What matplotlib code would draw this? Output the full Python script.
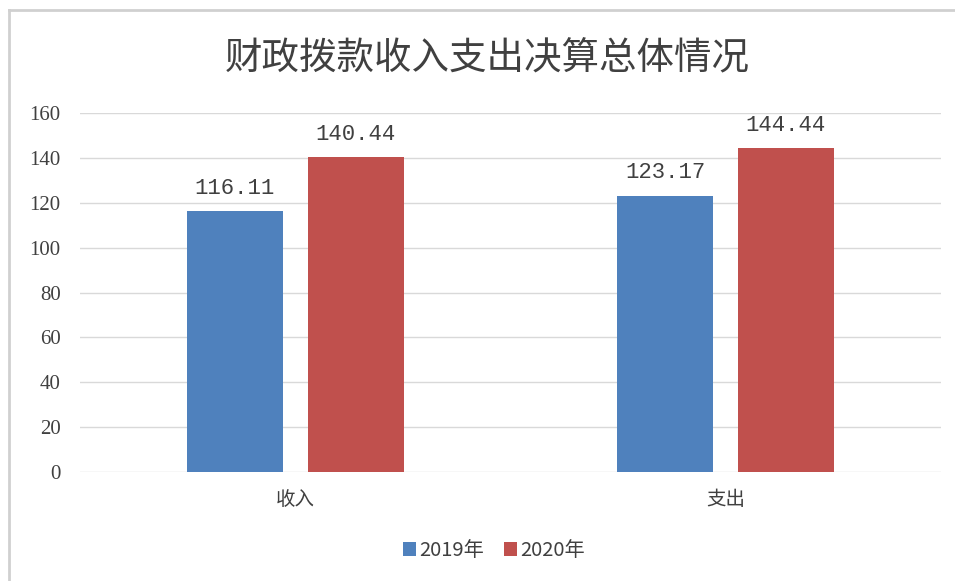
import numpy as np
import matplotlib.pyplot as plt
from matplotlib.lines import Line2D

# chart data
categories = ['收入', '支出']
series_names = ['2019年', '2020年']
values_2019 = [116.11, 123.17]
values_2020 = [140.44, 144.44]
y_ticks = [0, 20, 40, 60, 80, 100, 120, 140, 160]

blue = '#4F81BD'
red = '#C0504D'
grid_col = '#D9D9D9'
text_col = '#404040'

plt.rcParams['font.family'] = ['Noto Sans CJK SC', 'DejaVu Sans']

fig = plt.figure(figsize=(9.55, 5.81), dpi=100)
ax = fig.add_axes([0.0838, 0.1876, 0.9012, 0.6179])

x = np.arange(len(categories))
w = 0.223
off = 0.1405
b1 = ax.bar(x - off, values_2019, w, color=blue, label=series_names[0], zorder=3)
b2 = ax.bar(x + off, values_2020, w, color=red, label=series_names[1], zorder=3)

# data labels
for bars, vals in ((b1, values_2019), (b2, values_2020)):
    for r, v in zip(bars, vals):
        ax.text(r.get_x() + r.get_width() / 2, v + 5.5, f'{v:.2f}',
                ha='center', va='bottom', fontsize=16, color=text_col,
                family=['Liberation Mono', 'DejaVu Sans'])

ax.set_xlim(-0.5, 1.5)
ax.set_ylim(0, 160)
ax.set_yticks(y_ticks)
ax.set_yticklabels([str(t) for t in y_ticks], family=['Liberation Serif'],
                   fontsize=15, color=text_col)
ax.set_xticks(x)
ax.set_xticklabels(categories, fontsize=14, color=text_col)
ax.tick_params(axis='both', length=0)
ax.tick_params(axis='y', pad=14)
ax.tick_params(axis='x', pad=12)
ax.grid(axis='y', color=grid_col, linewidth=1, zorder=0)
for s in ax.spines.values():
    s.set_visible(False)

fig.text(0.51, 0.898, '财政拨款收入支出决算总体情况', ha='center', va='center',
         fontsize=27, color=text_col, fontweight='light')

leg = fig.legend(loc='center', bbox_to_anchor=(0.517, 0.052), ncol=2, frameon=False,
                 fontsize=14.5, handlelength=0.65, handleheight=0.65,
                 handletextpad=0.15, columnspacing=1.0, labelcolor=text_col)

# outer chart frame (left and top edges only)
fx = 9 / 955
fy = 1 - 10 / 581
fig.add_artist(Line2D([fx, fx], [0, fy], transform=fig.transFigure,
                      color='#D0D0D0', linewidth=2))
fig.add_artist(Line2D([fx, 1], [fy, fy], transform=fig.transFigure,
                      color='#D0D0D0', linewidth=2))

fig.savefig('out.png', dpi=100)
